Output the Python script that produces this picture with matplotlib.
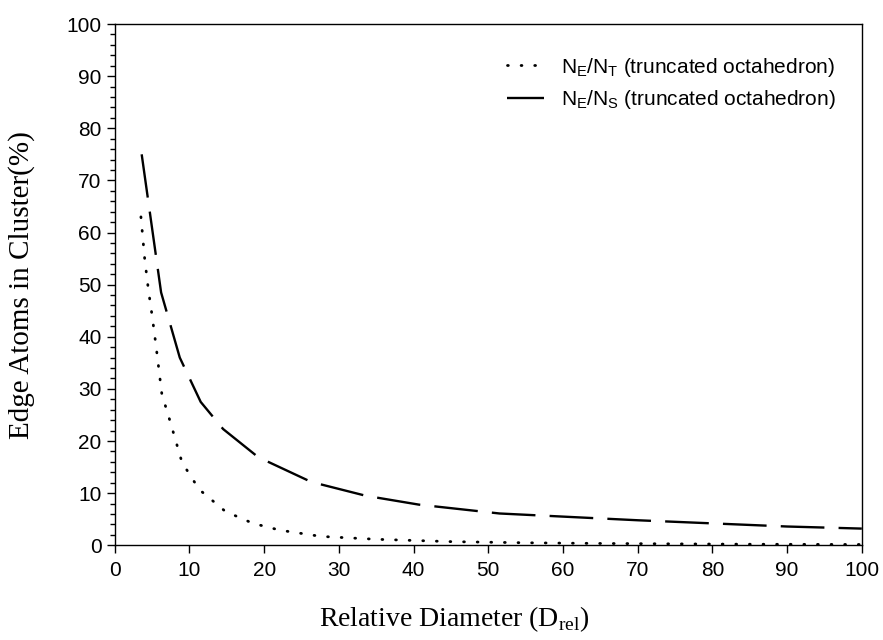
import numpy as np
import matplotlib
matplotlib.use("Agg")
import matplotlib.pyplot as plt
from matplotlib.ticker import MultipleLocator

# N_E/N_T (dotted)
d_total = [3.5, 4.0, 4.5, 5.0, 5.5, 6.3, 7.4, 9.0, 11.3, 14.8, 18.5, 22.1, 27.6,
           35.0, 45.0, 55.0, 65.0, 75.0, 85.0, 100.0]
ne_nt = [63.0, 55.0, 49.0, 44.0, 38.5, 29.0, 23.8, 15.9, 10.7, 6.5, 4.2, 2.9, 1.7,
         1.15, 0.7, 0.48, 0.35, 0.27, 0.2, 0.15]

# N_E/N_S (dashed)
d_surf = [3.6, 6.2, 8.7, 11.5, 14.5, 19.2, 26.3, 33.6, 40.7, 51.5, 60.0, 70.0,
          80.0, 90.0, 100.0]
ne_ns = [75.0, 48.5, 36.0, 27.5, 22.3, 16.9, 12.15, 9.5, 7.8, 6.1, 5.5, 4.8,
         4.2, 3.6, 3.2]

sans = ["Liberation Sans", "DejaVu Sans"]
serif = ["Liberation Serif", "DejaVu Serif"]
plt.rcParams['font.family'] = sans

fig = plt.figure(figsize=(8.83, 6.4), dpi=100)
ax = fig.add_axes([0.130, 0.148, 0.846, 0.8145])

ax.plot(d_total, ne_nt, color='black', linewidth=2.0,
        linestyle=(0, (0.3, 4.6)), dash_capstyle='round',
        label=r'N$_\mathregular{E}$/N$_\mathregular{T}$ (truncated octahedron)')
ax.plot(d_surf, ne_ns, color='black', linewidth=1.7,
        linestyle=(0, (18.5, 6.0)),
        label=r'N$_\mathregular{E}$/N$_\mathregular{S}$ (truncated octahedron)')

ax.set_xlim(0, 100)
ax.set_ylim(0, 100)
ax.xaxis.set_major_locator(MultipleLocator(10))
ax.yaxis.set_major_locator(MultipleLocator(10))
ax.yaxis.set_minor_locator(MultipleLocator(2))
ax.tick_params(which='major', direction='out', length=6, width=1, labelsize=15)
ax.tick_params(which='minor', direction='out', length=3.5, width=1)
ax.tick_params(axis='x', pad=5)

for s in ax.spines.values():
    s.set_linewidth(1.0)

ax.set_xlabel(r'Relative Diameter (D$_\mathregular{rel}$)', fontsize=20,
              family=serif)
ax.xaxis.set_label_coords(0.455, -0.113)
ax.set_ylabel('Edge Atoms in Cluster(%)', fontsize=21, family=serif)
ax.yaxis.set_label_coords(-0.107, 0.5)

ax.legend(loc='upper right', bbox_to_anchor=(0.99, 0.975), frameon=False,
          fontsize=15, handlelength=1.8, handletextpad=0.8, labelspacing=0.45)

fig.savefig('out.png', dpi=100)
